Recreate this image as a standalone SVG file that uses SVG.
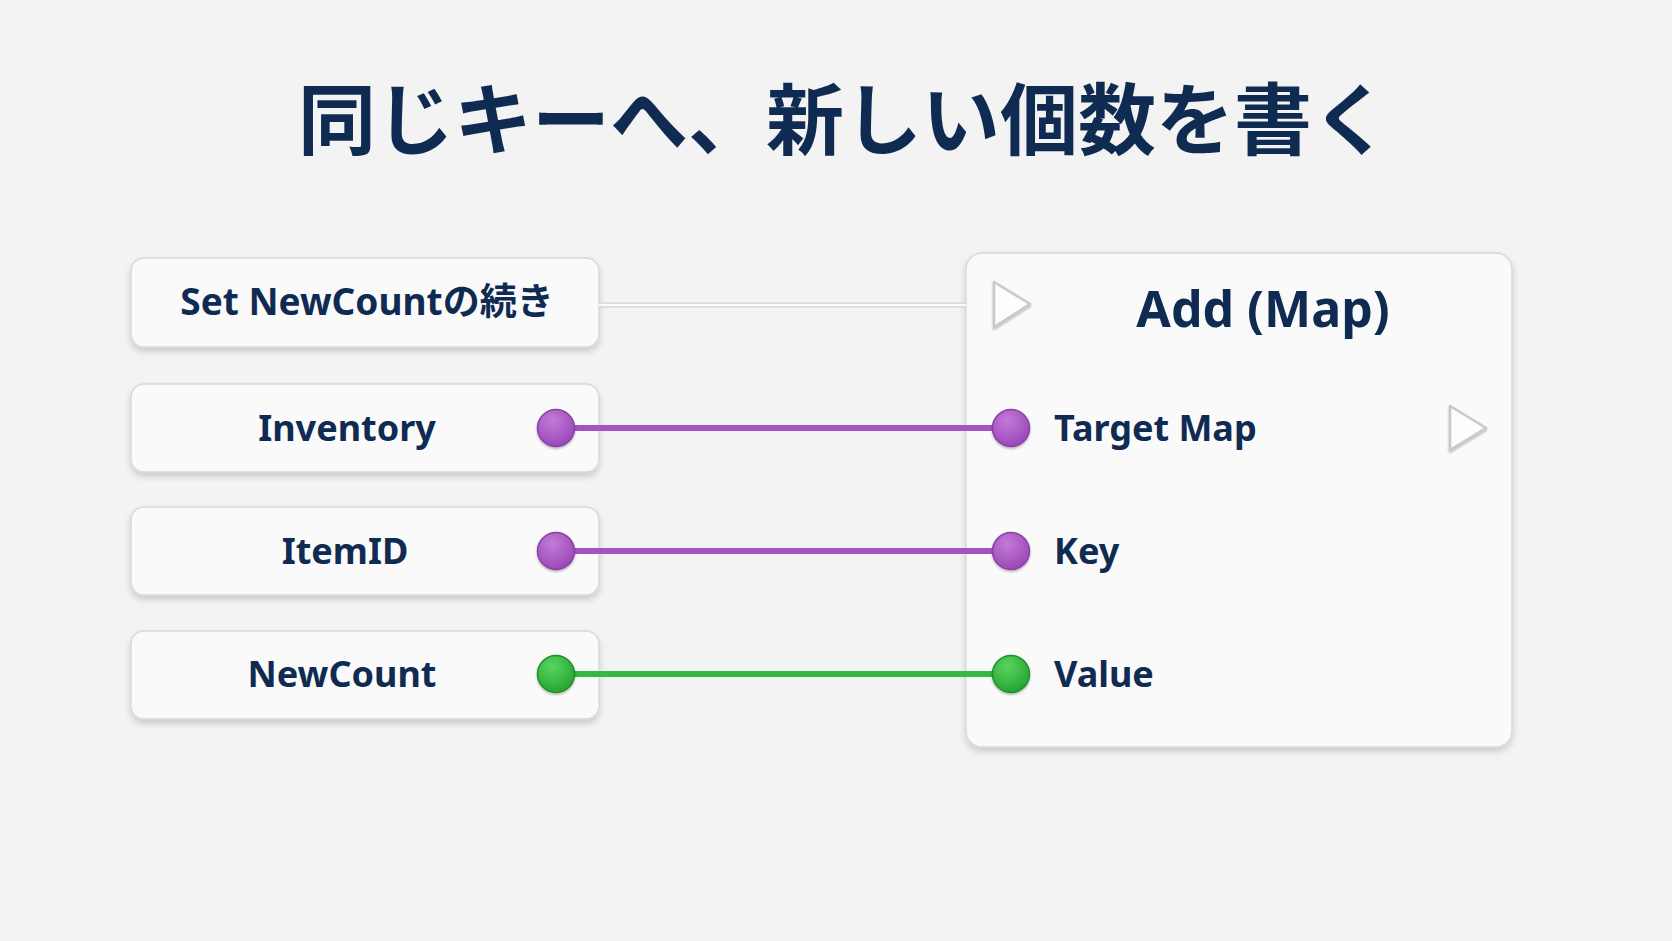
<svg xmlns="http://www.w3.org/2000/svg" width="1672" height="941" viewBox="0 0 1672 941">
<defs>
<filter id="sh" x="-10%" y="-20%" width="120%" height="150%">
<feDropShadow dx="0" dy="4" stdDeviation="3" flood-color="#000" flood-opacity="0.16"/>
</filter>
<filter id="psh" x="-50%" y="-50%" width="200%" height="200%">
<feDropShadow dx="0" dy="1.5" stdDeviation="1.2" flood-color="#000" flood-opacity="0.3"/>
</filter>
<radialGradient id="gp" cx="0.4" cy="0.3" r="0.7">
<stop offset="0" stop-color="#c47ad8"/>
<stop offset="1" stop-color="#9a49b8"/>
</radialGradient>
<radialGradient id="gg" cx="0.4" cy="0.3" r="0.7">
<stop offset="0" stop-color="#5ad460"/>
<stop offset="1" stop-color="#27a532"/>
</radialGradient>
</defs>
<style>
.box{fill:#fafafa;stroke:#d9d9d9;stroke-width:1.5}
.lbl{font-family:"Noto Sans","Noto Sans CJK JP",sans-serif;font-weight:700;font-size:36px;fill:#0f2b52}
.title{font-family:"Noto Sans CJK JP","Noto Sans",sans-serif;font-weight:700;font-size:78px;fill:#0f2b52}
.exec{fill:#fdfdfd;stroke:#c9c9c9;stroke-width:2.5;stroke-linejoin:round}
.pw{stroke:#a453c4;stroke-width:6;stroke-linecap:round}
.gw{stroke:#35b93f;stroke-width:6;stroke-linecap:round}
.pp{fill:url(#gp);stroke:#8a3fa6;stroke-width:1.5}
.gp{fill:url(#gg);stroke:#1f9029;stroke-width:1.5}
</style>
<rect width="1672" height="941" fill="#f3f3f3"/>
<text class="title" x="844" y="149" text-anchor="middle">同じキーへ、新しい個数を書く</text>

<g id="node-set-newcount">
<rect class="box" x="131" y="258" width="468" height="89" rx="13" filter="url(#sh)"/>
<text class="lbl" x="367" y="315" text-anchor="middle" style="font-size:37px">Set NewCountの続き</text>
</g>
<g id="node-inventory">
<rect class="box" x="131" y="384" width="468" height="88" rx="13" filter="url(#sh)"/>
<text class="lbl" x="347" y="441" text-anchor="middle">Inventory</text>
</g>
<g id="node-itemid">
<rect class="box" x="131" y="507" width="468" height="88" rx="13" filter="url(#sh)"/>
<text class="lbl" x="345" y="564" text-anchor="middle">ItemID</text>
</g>
<g id="node-newcount">
<rect class="box" x="131" y="631" width="468" height="88" rx="13" filter="url(#sh)"/>
<text class="lbl" x="342" y="687" text-anchor="middle">NewCount</text>
</g>

<g id="node-add-map">
<rect class="box" x="966" y="253" width="546" height="494" rx="16" filter="url(#sh)"/>
<path class="exec" d="M994 282 L1030 304 L994 327 Z" filter="url(#psh)"/>
<text class="lbl" x="1263" y="327" text-anchor="middle" style="font-size:50px">Add (Map)</text>
<text class="lbl" x="1054" y="441">Target Map</text>
<text class="lbl" x="1054" y="564">Key</text>
<text class="lbl" x="1054" y="687">Value</text>
<path class="exec" d="M1450 406 L1486 428 L1450 450 Z" filter="url(#psh)"/>
</g>

<g id="connectors">
<line x1="599" y1="305" x2="966" y2="305" stroke="#d0d0d0" stroke-width="5"/>
<line x1="599" y1="305" x2="966" y2="305" stroke="#fbfbfb" stroke-width="2.5"/>
<line class="pw" x1="556" y1="428" x2="1011" y2="428"/>
<line class="pw" x1="556" y1="551" x2="1011" y2="551"/>
<line class="gw" x1="556" y1="674" x2="1011" y2="674"/>
</g>

<g id="ports">
<circle class="pp" cx="556" cy="428" r="18.5" filter="url(#psh)"/>
<circle class="pp" cx="1011" cy="428" r="18.5" filter="url(#psh)"/>
<circle class="pp" cx="556" cy="551" r="18.5" filter="url(#psh)"/>
<circle class="pp" cx="1011" cy="551" r="18.5" filter="url(#psh)"/>
<circle class="gp" cx="556" cy="674" r="18.5" filter="url(#psh)"/>
<circle class="gp" cx="1011" cy="674" r="18.5" filter="url(#psh)"/>
</g>
</svg>
